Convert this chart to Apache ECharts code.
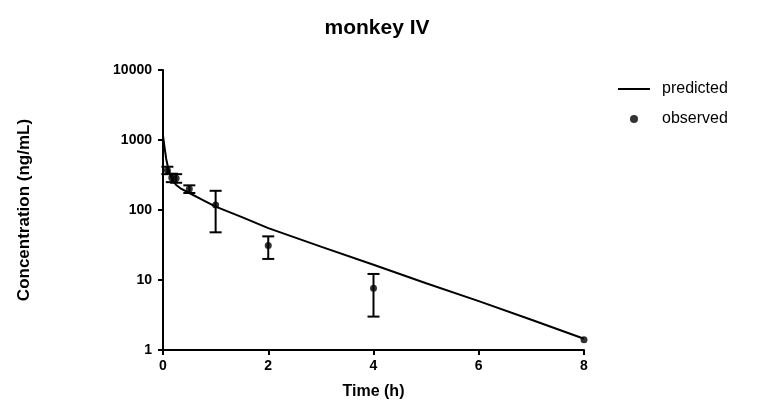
<!DOCTYPE html>
<html>
<head>
<meta charset="utf-8">
<script src="https://cdn.jsdelivr.net/npm/echarts@6/dist/echarts.min.js"></script>
<style>
  html, body { margin: 0; padding: 0; background: #fff; }
  #chart { width: 759px; height: 416px; }
</style>
</head>
<body>
<div id="chart"></div>
<script>
// Model-predicted plasma concentration (ng/mL) over time (h)
var predTime = [0, 0.03, 0.06, 0.1, 0.15, 0.2, 0.25, 0.35, 0.5, 0.75, 1, 1.5, 2, 3, 4, 5, 6, 7, 8];
var predConc = [1150, 780, 540, 390, 300, 255, 228, 200, 175, 140, 112, 79, 55, 30, 16.5, 9, 5, 2.7, 1.45];

// Observed mean concentration and standard deviation at each sampling time
var obsTime = [0.083, 0.167, 0.25, 0.5, 1, 2, 4, 8];
var obsMean = [370, 290, 285, 200, 118, 31, 7.6, 1.4];
var obsSD   = [45, 40, 40, 25, 70, 11, 4.6, 0];

var yTicks = [1, 10, 100, 1000, 10000];
var xTicks = [0, 2, 4, 6, 8];

var FONT = '"Liberation Sans", Arial, sans-serif';

var predData = predTime.map(function (t, i) { return [t, predConc[i]]; });
var obsData = obsTime.map(function (t, i) { return [t, obsMean[i]]; });
var errData = obsTime.map(function (t, i) {
  return [t, obsMean[i] - obsSD[i], obsMean[i] + obsSD[i]];
}).filter(function (d, i) { return obsSD[i] > 0; });

var chart = echarts.init(document.getElementById('chart'));

chart.setOption({
  animation: false,
  title: {
    text: 'monkey IV',
    left: 372,
    textAlign: 'center',
    top: 13,
    textStyle: { fontFamily: FONT, fontSize: 21, fontWeight: 'bold', color: '#000' }
  },
  legend: {
    orient: 'vertical',
    left: 613,
    top: 76,
    itemWidth: 32,
    itemHeight: 8,
    itemGap: 14,
    textStyle: { fontFamily: FONT, fontSize: 16, color: '#000', padding: [0, 0, 0, 7] },
    data: [
      { name: 'predicted', icon: 'path://M0,0 H32 V2 H0 Z' },
      { name: 'observed', icon: 'circle' }
    ]
  },
  grid: { left: 163, right: 175, top: 70, bottom: 66, containLabel: false },
  xAxis: {
    type: 'value',
    min: 0,
    max: 8,
    interval: 2,
    name: 'Time (h)',
    nameLocation: 'middle',
    nameGap: 34,
    nameTextStyle: { fontFamily: FONT, fontSize: 16, fontWeight: 'bold', color: '#000' },
    axisLine: { lineStyle: { color: '#000', width: 2 } },
    axisTick: { show: true, length: 5, lineStyle: { color: '#000', width: 2 } },
    axisLabel: {
      fontFamily: FONT, fontSize: 14, fontWeight: 'bold', color: '#000', margin: 9,
      customValues: xTicks
    },
    splitLine: { show: false }
  },
  yAxis: {
    type: 'log',
    logBase: 10,
    min: 1,
    max: 10000,
    name: 'Concentration (ng/mL)',
    nameLocation: 'middle',
    nameGap: 130,
    nameRotate: 90,
    nameTextStyle: { fontFamily: FONT, fontSize: 17, fontWeight: 'bold', color: '#000' },
    axisLine: { show: true, lineStyle: { color: '#000', width: 2 } },
    axisTick: { show: true, length: 5, lineStyle: { color: '#000', width: 2 } },
    axisLabel: {
      fontFamily: FONT, fontSize: 14, fontWeight: 'bold', color: '#000', margin: 11,
      formatter: function (v) { return String(Math.round(v)); }
    },
    splitLine: { show: false }
  },
  series: [
    {
      name: 'predicted',
      type: 'line',
      data: predData,
      symbol: 'none',
      smooth: false,
      lineStyle: { color: '#000', width: 2 },
      itemStyle: { color: '#000' },
      z: 3
    },
    {
      name: 'observed',
      type: 'scatter',
      data: obsData,
      symbol: 'circle',
      symbolSize: 7,
      itemStyle: { color: '#000' },
      z: 4
    },
    {
      name: 'observed',
      type: 'custom',
      data: errData,
      z: 4,
      renderItem: function (params, api) {
        var x = api.value(0);
        var lo = api.coord([x, api.value(1)]);
        var hi = api.coord([x, api.value(2)]);
        var half = 6;
        var style = { stroke: '#000', lineWidth: 2 };
        return {
          type: 'group',
          children: [
            { type: 'line', shape: { x1: lo[0], y1: lo[1], x2: hi[0], y2: hi[1] }, style: style },
            { type: 'line', shape: { x1: lo[0] - half, y1: lo[1], x2: lo[0] + half, y2: lo[1] }, style: style },
            { type: 'line', shape: { x1: hi[0] - half, y1: hi[1], x2: hi[0] + half, y2: hi[1] }, style: style }
          ]
        };
      }
    }
  ]
});
</script>
</body>
</html>
